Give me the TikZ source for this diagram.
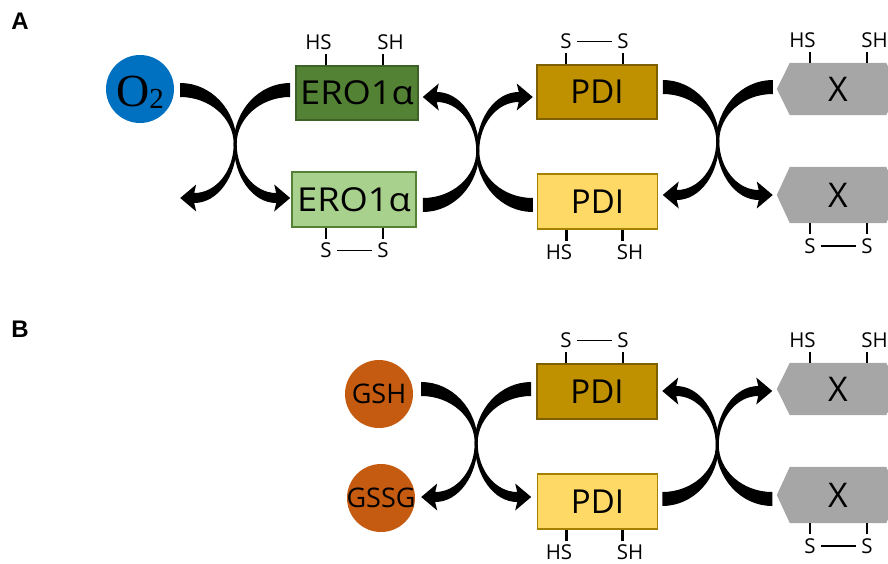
\documentclass[tikz,border=0pt]{standalone}
\usepackage{graphicx}
\usepackage{fontspec}
\setmainfont{Open Sans}
\newfontfamily\panelfont{Liberation Sans}
\newfontfamily\oxfont{Liberation Serif}
\usetikzlibrary{calc,backgrounds}

\definecolor{oxblue}{HTML}{0070C0}
\definecolor{erodark}{HTML}{548235}
\definecolor{erodarkrim}{HTML}{3E6127}
\definecolor{erolight}{HTML}{A9D18E}
\definecolor{erolightrim}{HTML}{548235}
\definecolor{pdidark}{HTML}{BF9000}
\definecolor{pdidarkrim}{HTML}{7F6000}
\definecolor{pdilight}{HTML}{FFD966}
\definecolor{pdilightrim}{HTML}{A68000}
\definecolor{subgray}{HTML}{A6A6A6}
\definecolor{glut}{HTML}{C55A11}

\tikzset{
  protbox/.style={rectangle, draw, line width=1.5pt, inner sep=0pt,
    minimum width=120pt, minimum height=55pt, font=\fontsize{33}{33}\selectfont},
  molecule/.style={circle, inner sep=0pt, minimum size=68pt},
  subst/.style={rectangle, inner sep=0pt, minimum width=96pt,
    font=\fontsize{34}{34}\selectfont},
  thiol/.style={inner sep=0pt, font=\fontsize{20.5}{20.5}\selectfont},
  tickline/.style={line width=2.4pt},
  bondline/.style={line width=1.8pt},
  panel/.style={inner sep=0pt, font=\panelfont\bfseries\fontsize{24}{24}\selectfont},
  % tapered S-shaped reaction arrow: tail at the origin heading right,
  % narrow waist at (55,54), head pointing right at (110,108)
  sarrow/.pic={
    \fill[black] (0,-7) .. controls (31.2,-7) and (56.5,20.3) .. (56.5,54)
      .. controls (56.5,81) and (74.2,103) .. (96,103)
      -- (94,94.5) -- (110,108) -- (94,121.5) -- (96,113)
      .. controls (72.5,113) and (53.5,86.6) .. (53.5,54)
      .. controls (53.5,28.1) and (29.5,7) .. (0,7) -- cycle;
  }
}

% two free thiol groups on one edge of a protein
\newcommand{\freethiols}[6]{%
  \draw[tickline] ($(#1.#2)+(#4,0)$) -- ++(0,#3*11) coordinate (#1-l);
  \draw[tickline] ($(#1.#2)+(#5,0)$) -- ++(0,#3*11) coordinate (#1-r);
  \node[thiol, anchor=#6] at ($(#1-l)+(-7.5,#3*4)$) {HS};
  \node[thiol, anchor=#6] at ($(#1-r)+(7.5,#3*4)$) {SH};
}
% a disulfide bond on one edge of a protein
\newcommand{\disulfide}[6]{%
  \draw[tickline] ($(#1.#2)+(#4,0)$) -- ++(0,#3*11) coordinate (#1-l);
  \draw[tickline] ($(#1.#2)+(#5,0)$) -- ++(0,#3*11) coordinate (#1-r);
  \node[thiol, anchor=#6] (#1-sl) at ($(#1-l)+(0,#3*4)$) {S};
  \node[thiol, anchor=#6] (#1-sr) at ($(#1-r)+(0,#3*4)$) {S};
  \draw[bondline] ([xshift=5pt]#1-sl.east) -- ([xshift=-5pt]#1-sr.west);
}
% grey substrate outline around a substrate node
\newcommand{\substhex}[1]{%
  \begin{scope}[on background layer]
    \fill[subgray] (#1.north west) -- (#1.north east) -- ($(#1.east)+(13,0)$)
      -- (#1.south east) -- (#1.south west) -- ($(#1.west)+(-13,0)$) -- cycle;
  \end{scope}
}

\begin{document}
\begin{tikzpicture}[x=1pt, y=-1pt]
\useasboundingbox (0,0) rectangle (888,563);

% ---------------- panel A ----------------
\node[panel] (lblA) at (20,21) {A};

\node[molecule, fill=oxblue] (o2) at (140,89) {};
\node[inner sep=0pt] (o2txt) at ([yshift=-3pt]o2.center)
  {\oxfont\fontsize{46}{46}\selectfont O\raisebox{-2pt}{\fontsize{29}{29}\selectfont 2}};

\node[protbox, fill=erodark, draw=erodarkrim, minimum width=122pt, minimum height=54pt]
  (erod) at (357,93) {\scalebox{1.1}[1]{ERO1α}};
\node[protbox, fill=erolight, draw=erolightrim, minimum width=124pt]
  (erol) at (354,199.5) {\scalebox{1.1}[1]{ERO1α}};
\freethiols{erod}{north}{-1}{-31}{26}{south}
\disulfide{erol}{south}{1}{-28}{29}{north}

\node[protbox, fill=pdidark, draw=pdidarkrim, minimum height=54pt] (pdida) at (597,92) {PDI};
\node[protbox, fill=pdilight, draw=pdilightrim] (pdila) at (597.5,201.5) {PDI};
\disulfide{pdida}{north}{-1}{-31}{26}{south}
\freethiols{pdila}{south}{1}{-31}{25}{north}

\node[subst, minimum height=52pt] (xa1) at (838,89) {X};
\node[subst, minimum height=56pt] (xa2) at (838,195) {X};
\substhex{xa1}
\substhex{xa2}
\freethiols{xa1}{north}{-1}{-28}{29}{south}
\disulfide{xa2}{south}{1}{-28}{29}{north}

% O2 / ERO1alpha exchange
\coordinate (a1) at ($(o2.east)+(6,1)$);
\pic at (a1) {sarrow};
\pic[xscale=-1] at ($(a1)+(110,0)$) {sarrow};
% ERO1alpha / PDI exchange
\coordinate (a2) at ($(erol.east)+(6,5.5)$);
\pic[yscale=-1] at (a2) {sarrow};
\pic[xscale=-1, yscale=-1] at ($(a2)+(110,0)$) {sarrow};
% PDI / substrate exchange
\coordinate (a3) at ($(pdida.east)+(5,-5)$);
\pic at (a3) {sarrow};
\pic[xscale=-1] at ($(a3)+(110,0)$) {sarrow};

% ---------------- panel B ----------------
\node[panel] (lblB) at (20,329) {B};

\node[molecule, fill=glut] (gsh) at (379,394) {};
\node[inner sep=0pt, font=\fontsize{27}{27}\selectfont] at (gsh) {GSH};
\node[molecule, fill=glut] (gssg) at (381,498) {};
\node[inner sep=0pt, font=\fontsize{27}{27}\selectfont] at (gssg) {GSSG};

\node[protbox, fill=pdidark, draw=pdidarkrim] (pdidb) at (597,391.5) {PDI};
\node[protbox, fill=pdilight, draw=pdilightrim] (pdilb) at (597.5,501.5) {PDI};
\disulfide{pdidb}{north}{-1}{-31}{26}{south}
\freethiols{pdilb}{south}{1}{-31}{25}{north}

\node[subst, minimum height=52pt] (xb1) at (838,389) {X};
\node[subst, minimum height=56pt] (xb2) at (838,495) {X};
\substhex{xb1}
\substhex{xb2}
\freethiols{xb1}{north}{-1}{-28}{29}{south}
\disulfide{xb2}{south}{1}{-28}{29}{north}

% GSH / PDI exchange
\coordinate (b1) at ($(gsh.east)+(8,-5)$);
\pic at (b1) {sarrow};
\pic[xscale=-1] at ($(b1)+(110,0)$) {sarrow};
% PDI / substrate exchange
\coordinate (b2) at ($(pdilb.east)+(4,-2.5)$);
\pic[yscale=-1] at (b2) {sarrow};
\pic[xscale=-1, yscale=-1] at ($(b2)+(110,0)$) {sarrow};
\end{tikzpicture}
\end{document}
